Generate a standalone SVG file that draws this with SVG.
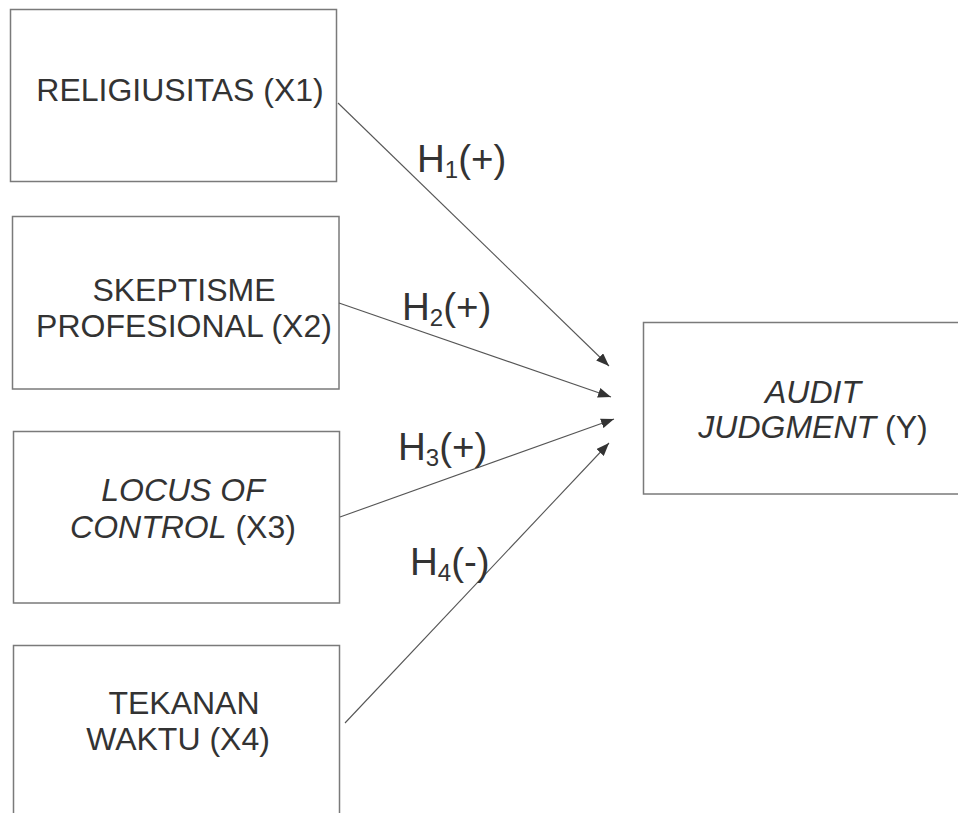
<svg xmlns="http://www.w3.org/2000/svg" width="958" height="813" viewBox="0 0 958 813">
  <style>
    .box { fill: #ffffff; stroke: #7a7a7a; stroke-width: 1.5; }
    .lbl { font-family: "Liberation Sans", Arial, sans-serif; font-size: 32px; fill: #333333; text-anchor: middle; }
    .h { font-family: "Liberation Sans", Arial, sans-serif; font-size: 38.5px; fill: #333333; }
    .sub { font-size: 24px; }
    .it { font-style: italic; }
    .conn { stroke: #555555; stroke-width: 1.1; fill: none; marker-end: url(#arr); }
  </style>
  <defs>
    <marker id="arr" markerUnits="userSpaceOnUse" markerWidth="14" markerHeight="10" refX="13" refY="5" orient="auto">
      <path d="M0,0 L13,5 L0,10 Z" fill="#333333"/>
    </marker>
  </defs>
  <rect width="958" height="813" fill="#ffffff"/>

  <g id="x1">
    <rect class="box" x="10.5" y="9.5" width="326" height="172"/>
    <text class="lbl" x="180" y="101">RELIGIUSITAS (X1)</text>
  </g>
  <g id="x2">
    <rect class="box" x="12.5" y="216.5" width="326.5" height="172.5"/>
    <text class="lbl" x="184" y="301">SKEPTISME</text>
    <text class="lbl" x="184" y="337">PROFESIONAL (X2)</text>
  </g>
  <g id="x3">
    <rect class="box" x="13.5" y="431.5" width="326" height="171.5"/>
    <text class="lbl" x="183" y="501"><tspan class="it">LOCUS OF</tspan></text>
    <text class="lbl" x="183" y="538"><tspan class="it">CONTROL</tspan> (X3)</text>
  </g>
  <g id="x4">
    <rect class="box" x="13.5" y="645.5" width="326" height="180"/>
    <text class="lbl" x="184" y="714">TEKANAN</text>
    <text class="lbl" x="178" y="750">WAKTU (X4)</text>
  </g>
  <g id="y">
    <rect class="box" x="643.5" y="322.5" width="330" height="171.5"/>
    <text class="lbl" x="813" y="403"><tspan class="it">AUDIT</tspan></text>
    <text class="lbl" x="813" y="438"><tspan class="it">JUDGMENT</tspan> (Y)</text>
  </g>

  <g id="connectors">
    <line class="conn" x1="338" y1="103" x2="609" y2="366"/>
    <line class="conn" x1="339" y1="303" x2="611" y2="397"/>
    <line class="conn" x1="340" y1="517" x2="614" y2="419"/>
    <line class="conn" x1="345" y1="723" x2="609" y2="443"/>
  </g>

  <g id="labels">
    <text class="h" x="417" y="172">H<tspan class="sub" dy="6">1</tspan><tspan dy="-6">(+)</tspan></text>
    <text class="h" x="402" y="320">H<tspan class="sub" dy="6">2</tspan><tspan dy="-6">(+)</tspan></text>
    <text class="h" x="398" y="460">H<tspan class="sub" dy="6">3</tspan><tspan dy="-6">(+)</tspan></text>
    <text class="h" x="410" y="575">H<tspan class="sub" dy="6">4</tspan><tspan dy="-6">(-)</tspan></text>
  </g>
</svg>
